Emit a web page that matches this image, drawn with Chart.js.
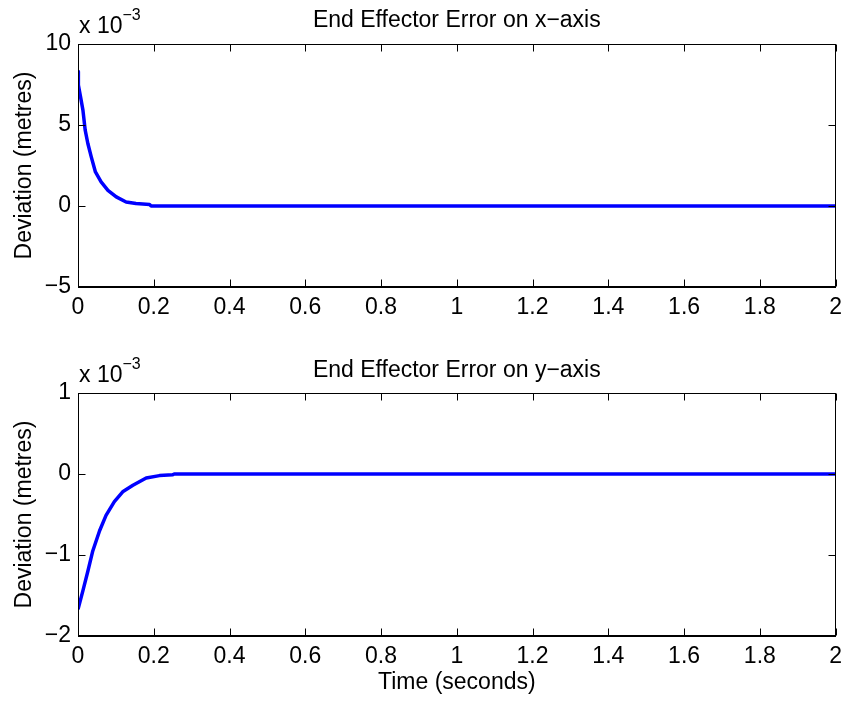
<!DOCTYPE html>
<html><head><meta charset="utf-8">
<script src="https://cdn.jsdelivr.net/npm/chart.js@4/dist/chart.umd.min.js"></script>
<style>
html,body{margin:0;padding:0;background:#fff;width:849px;height:703px;overflow:hidden}
canvas{position:absolute;left:0}
#c1{top:0}
#c2{top:340px}
</style></head>
<body>
<canvas id="c1" width="849" height="340"></canvas>
<canvas id="c2" width="849" height="363"></canvas>
<script>
// Values in units of 10^-3 metres
const timeX = [0, 0.001, 0.0066, 0.013, 0.019, 0.026, 0.035, 0.046, 0.061, 0.079, 0.101, 0.127, 0.153, 0.189, 0.193, 2];
const errX  = [8.3, 7.47, 6.75, 5.92, 4.68, 3.86, 3.03, 2.10, 1.49, 0.97, 0.56, 0.25, 0.15, 0.09, 0, 0];
const timeY = [0, 0.013, 0.026, 0.039, 0.057, 0.074, 0.096, 0.118, 0.145, 0.18, 0.215, 0.25, 0.254, 2];
const errY  = [-1.67, -1.44, -1.20, -0.95, -0.70, -0.51, -0.34, -0.22, -0.14, -0.05, -0.02, -0.01, 0, 0];

const xTickStep = 0.2;
const topYRange = [-5, 10, 5];
const botYRange = [-2, 1, 1];
const titles = ['End Effector Error on x\u2212axis', 'End Effector Error on y\u2212axis'];
const yLabel = 'Deviation (metres)';
const xLabel = 'Time (seconds)';
const exponentText = ['x 10', '\u22123'];

const FAM = "'Liberation Sans', Arial, Helvetica, sans-serif";

function fmt(v){
  const r = Math.round(v*10)/10;
  return (r < 0 ? '\u2212' : '') + String(Math.abs(r));
}

const framePlugin = {
  id: 'frame',
  afterDraw(chart, args, opts){
    const {ctx, chartArea: a, scales: {x, y}} = chart;
    ctx.save();
    ctx.strokeStyle = '#000';
    ctx.lineWidth = 1;
    const L = Math.round(a.left) + 0.5, R = Math.round(a.right) - 0.5;
    const T = Math.round(a.top) + 0.5, B = Math.round(a.bottom) - 0.5;
    ctx.strokeRect(L, T, R - L, B - T);
    const len = 7;
    ctx.beginPath();
    x.ticks.forEach(t => {
      const px = Math.round(x.getPixelForValue(t.value)) + 0.5;
      ctx.moveTo(px, B); ctx.lineTo(px, B - len);
      ctx.moveTo(px, T); ctx.lineTo(px, T + len);
    });
    y.ticks.forEach(t => {
      const py = Math.round(y.getPixelForValue(t.value)) + 0.5;
      ctx.moveTo(L, py); ctx.lineTo(L + len, py);
      ctx.moveTo(R, py); ctx.lineTo(R - len, py);
    });
    ctx.stroke();
    // title
    ctx.fillStyle = '#000';
    ctx.font = '23px ' + FAM;
    ctx.textAlign = 'center';
    ctx.textBaseline = 'alphabetic';
    ctx.fillText(opts.title, (a.left + a.right) / 2, a.top - opts.titleGap);
    // exponent
    ctx.textAlign = 'left';
    const ex = a.left + 1;
    const eb = a.top - opts.expGap;
    ctx.fillText(exponentText[0], ex, eb);
    const w = ctx.measureText(exponentText[0]).width;
    ctx.font = '16px ' + FAM;
    ctx.fillText(exponentText[1], ex + w, eb - 13);
    ctx.restore();
  }
};

function makeChart(id, xs, ys, yr, title, showXTitle, padTop, xHeight, titleGap, expGap){
  const pts = xs.map((t, i) => ({x: t, y: ys[i]}));
  return new Chart(document.getElementById(id), {
    type: 'scatter',
    data: { datasets: [{
      data: pts, showLine: true, borderColor: '#0000ff', backgroundColor: '#0000ff',
      borderWidth: 3.5, pointRadius: 0, tension: 0, borderJoinStyle: 'round'
    }]},
    options: {
      responsive: false, animation: false, devicePixelRatio: 1,
      layout: { padding: { left: 0, right: 12, top: padTop, bottom: 0 } },
      plugins: {
        legend: { display: false }, tooltip: { enabled: false },
        frame: { title: title, titleGap: titleGap, expGap: expGap }
      },
      scales: {
        x: {
          type: 'linear', min: 0, max: 2,
          afterFit: s => { s.height = xHeight; },
          grid: { display: false, drawTicks: false },
          border: { display: true, color: '#000', width: 1 },
          ticks: { stepSize: xTickStep, autoSkip: false, maxRotation: 0, padding: 7,
                   color: '#000', font: { family: FAM, size: 23 }, callback: v => fmt(v) },
          title: { display: showXTitle, text: xLabel, color: '#000',
                   font: { family: FAM, size: 23 }, padding: { top: 0, bottom: 7 } }
        },
        y: {
          type: 'linear', min: yr[0], max: yr[1],
          afterFit: s => { s.width = 78; },
          grid: { display: false, drawTicks: false },
          border: { display: true, color: '#000', width: 1 },
          ticks: { stepSize: yr[2], autoSkip: false, padding: 7,
                   color: '#000', font: { family: FAM, size: 23 }, callback: v => fmt(v) },
          title: { display: true, text: yLabel, color: '#000',
                   font: { family: FAM, size: 23 }, padding: { top: 11, bottom: 0 } }
        }
      }
    },
    plugins: [framePlugin]
  });
}

makeChart('c1', timeX, errX, topYRange, titles[0], false, 44, 53, 17, 11);
makeChart('c2', timeY, errY, botYRange, titles[1], true, 53, 67, 16, 11);
</script>
</body></html>
